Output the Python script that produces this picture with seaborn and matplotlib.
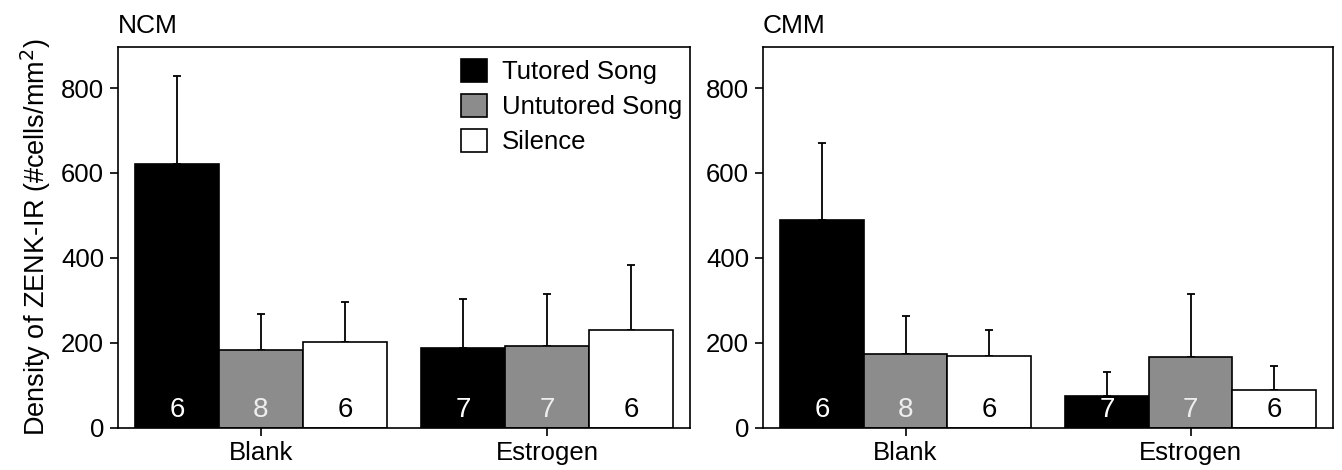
import pandas as pd
import numpy as np
import matplotlib
matplotlib.use('Agg')
import matplotlib.pyplot as plt
from matplotlib.patches import Patch
import seaborn as sns

# Group / condition labels
treatments = ['Blank', 'Estrogen']
conditions = ['Tutored Song', 'Untutored Song', 'Silence']

# NCM means and SEM (per condition, Blank then Estrogen)
ncm_tutored = [622, 187]
ncm_untutored = [182, 192]
ncm_silence = [201, 229]
ncm_tutored_err = [206, 117]
ncm_untutored_err = [85, 122]
ncm_silence_err = [95, 155]

# CMM means and SEM
cmm_tutored = [488, 74]
cmm_untutored = [173, 167]
cmm_silence = [168, 88]
cmm_tutored_err = [183, 58]
cmm_untutored_err = [90, 147]
cmm_silence_err = [61, 57]

# sample sizes, same for both regions
n_tutored = [6, 7]
n_untutored = [8, 7]
n_silence = [6, 6]

palette = {'Tutored Song': '#000000', 'Untutored Song': '#8c8c8c', 'Silence': '#ffffff'}
n_colors = {'Tutored Song': 'white', 'Untutored Song': '#eeeeee', 'Silence': 'black'}


def build_df(tut, untut, sil, tut_e, untut_e, sil_e):
    rows = []
    for cond, vals, errs, ns in [('Tutored Song', tut, tut_e, n_tutored),
                                 ('Untutored Song', untut, untut_e, n_untutored),
                                 ('Silence', sil, sil_e, n_silence)]:
        for t, v, e, n in zip(treatments, vals, errs, ns):
            rows.append({'Treatment': t, 'Condition': cond, 'Density': v, 'SEM': e, 'N': n})
    return pd.DataFrame(rows)


ncm_df = build_df(ncm_tutored, ncm_untutored, ncm_silence,
                  ncm_tutored_err, ncm_untutored_err, ncm_silence_err)
cmm_df = build_df(cmm_tutored, cmm_untutored, cmm_silence,
                  cmm_tutored_err, cmm_untutored_err, cmm_silence_err)

sns.set_style('white')
plt.rcParams['font.family'] = ['Liberation Sans', 'DejaVu Sans']
plt.rcParams['text.color'] = 'black'
plt.rcParams['axes.labelcolor'] = 'black'
plt.rcParams['xtick.color'] = 'black'
plt.rcParams['ytick.color'] = 'black'

fig = plt.figure(figsize=(13.42, 4.70), dpi=100)
ax1 = fig.add_axes([0.0879, 0.0904, 0.4262, 0.8096])
ax2 = fig.add_axes([0.5686, 0.0904, 0.4247, 0.8096])


def draw_panel(ax, df, title):
    sns.barplot(data=df, x='Treatment', y='Density', hue='Condition',
                order=treatments, hue_order=conditions, palette=palette,
                edgecolor='black', linewidth=1.2, width=0.88,
                errorbar=None, legend=False, ax=ax, zorder=2)
    # one-sided error bars and sample sizes, placed on the seaborn bars
    for cond, container in zip(conditions, ax.containers):
        sub = df[df['Condition'] == cond].set_index('Treatment').loc[treatments]
        for bar, (_, row) in zip(container, sub.iterrows()):
            xc = bar.get_x() + bar.get_width() / 2
            ax.errorbar(xc, row['Density'], yerr=[[0], [row['SEM']]],
                        fmt='none', ecolor='black', elinewidth=1.3,
                        capsize=3, capthick=1.3, zorder=1)
            ax.text(xc, 10, str(row['N']), ha='center', va='bottom',
                    fontsize=20, color=n_colors[cond])
    ax.set_xlim(-0.5, 1.5)
    ax.set_ylim(0, 897)
    ax.set_yticks([0, 200, 400, 600, 800])
    ax.set_xlabel('')
    ax.set_ylabel('')
    ax.tick_params(axis='both', labelsize=18.5, length=6, width=1.2,
                   direction='out', left=True, bottom=True, pad=4,
                   colors='black')
    for sp in ax.spines.values():
        sp.set_visible(True)
        sp.set_color('black')
        sp.set_linewidth(1.2)
    ax.set_title(title, loc='left', fontsize=19, pad=10, color='black')


draw_panel(ax1, ncm_df, 'NCM')
draw_panel(ax2, cmm_df, 'CMM')

ax1.set_ylabel('Density of ZENK-IR (#cells/mm$^2$)', fontsize=19.5, labelpad=6,
               color='black')

legend_handles = [Patch(facecolor=palette[c], edgecolor='black', linewidth=1.2, label=c)
                  for c in conditions]
ax1.legend(handles=legend_handles, loc='upper right', bbox_to_anchor=(1.014, 1.01),
           frameon=False, fontsize=18.5,
           handlelength=1.0, handleheight=1.0, handletextpad=0.6,
           labelspacing=0.38, borderaxespad=0.3, borderpad=0.3)

fig.savefig('out.png', dpi=100)
